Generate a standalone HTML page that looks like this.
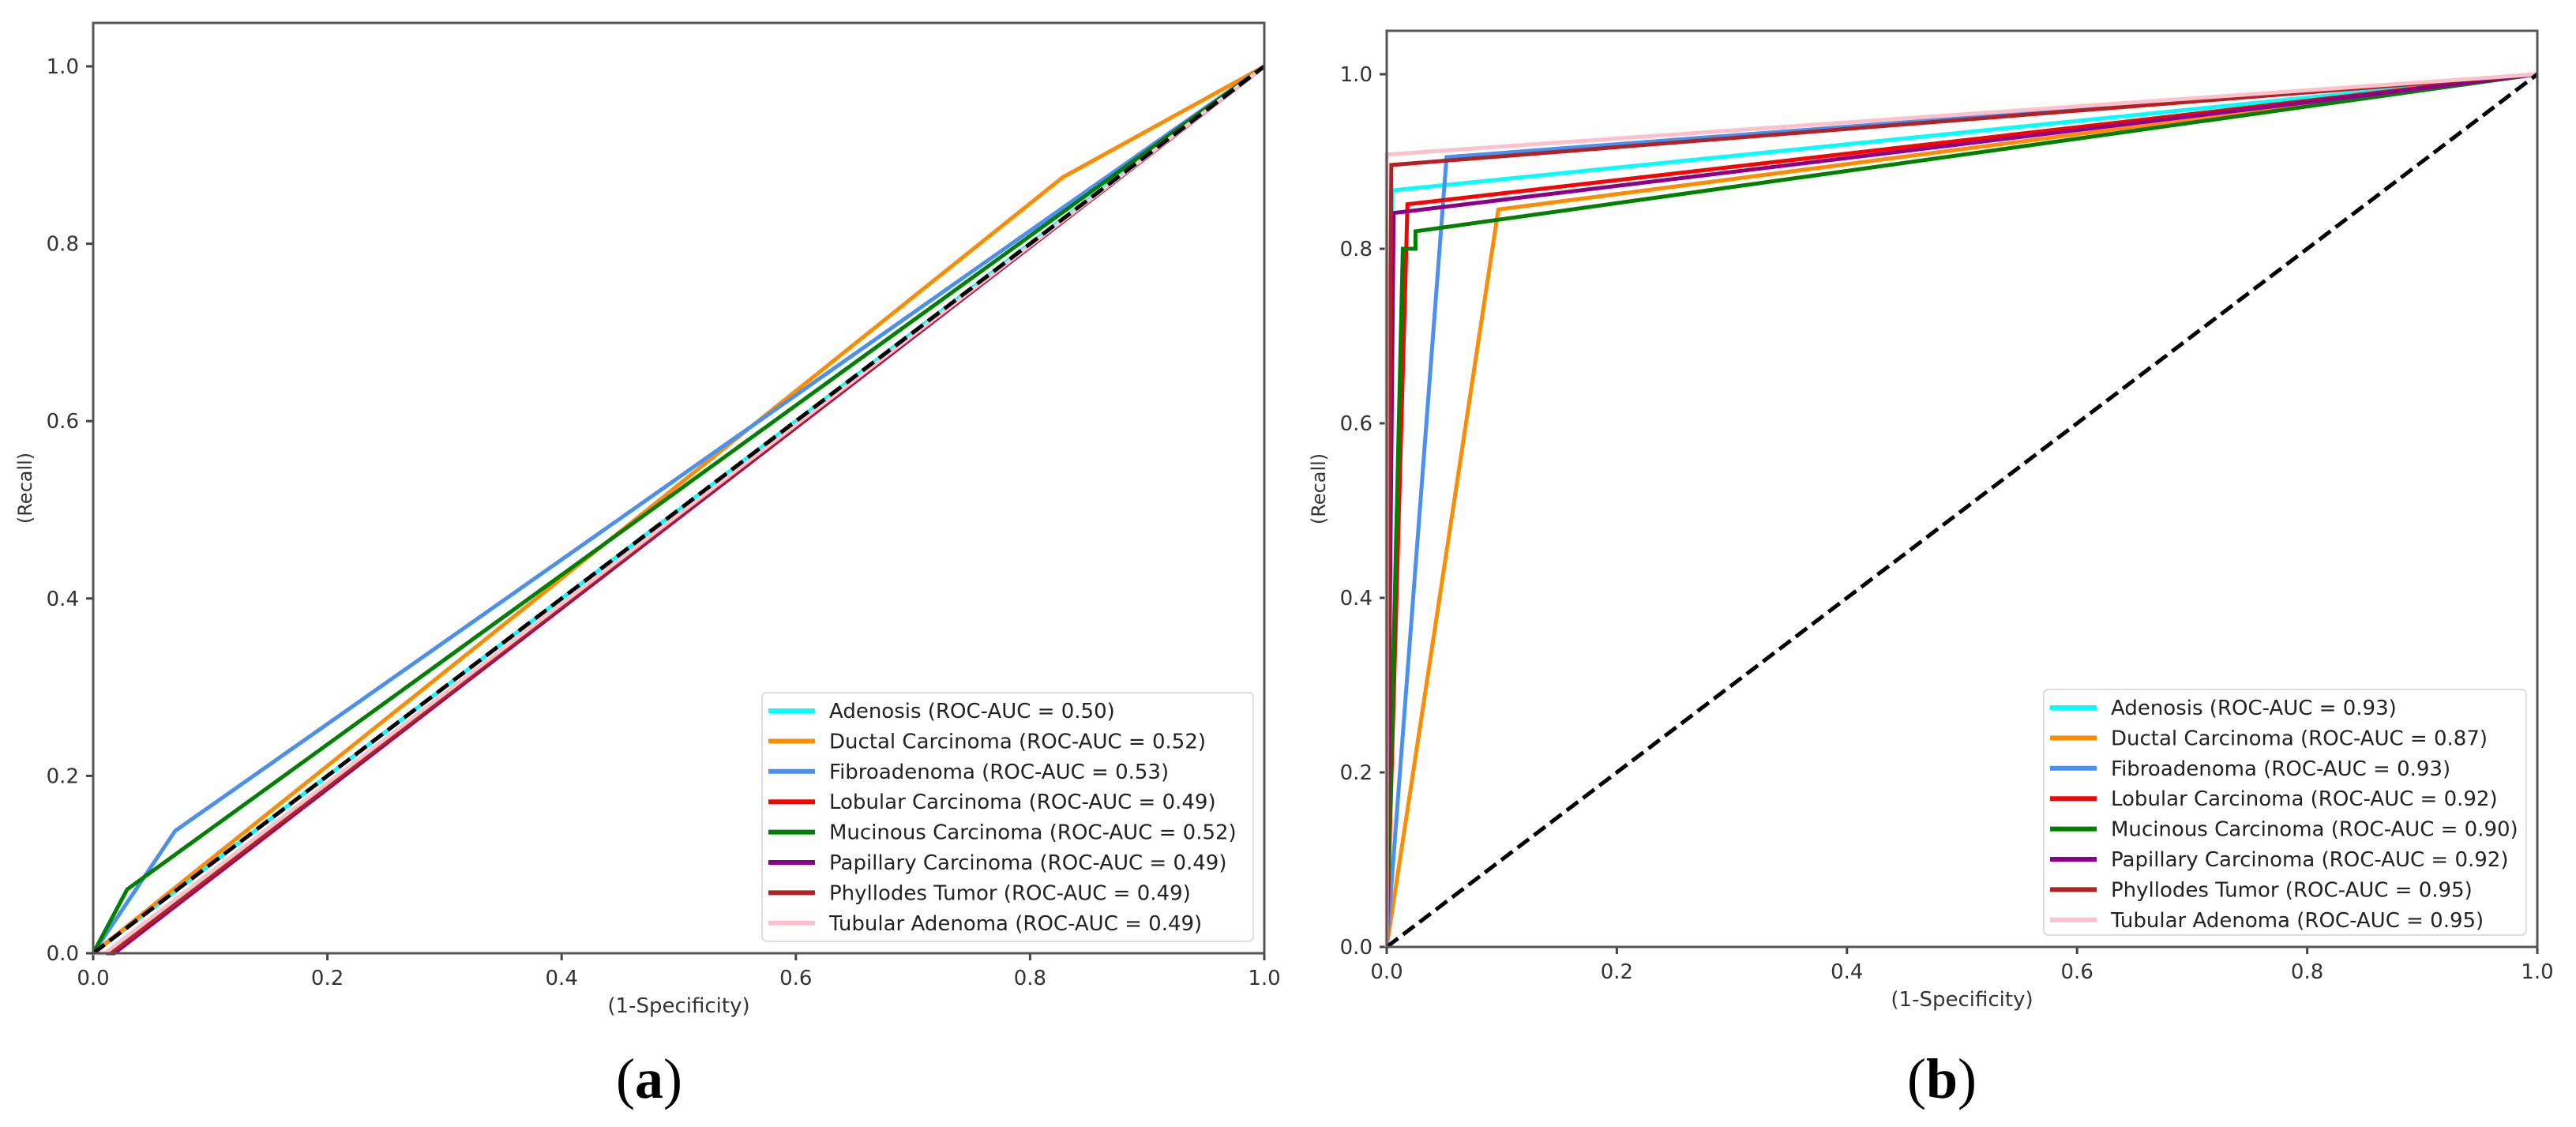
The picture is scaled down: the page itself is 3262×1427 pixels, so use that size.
<!DOCTYPE html>
<html><head><meta charset="utf-8"><style>
html,body{margin:0;padding:0;background:#fff;}
svg{display:block;font-family:"DejaVu Sans","Liberation Sans",sans-serif;}
</style></head><body>
<svg id="fig" width="3262" height="1427" viewBox="0 0 3262 1427" xmlns="http://www.w3.org/2000/svg"></svg>
<script>
const ticks = [0, 0.2, 0.4, 0.6, 0.8, 1.0];
const tickLabels = ["0.0","0.2","0.4","0.6","0.8","1.0"];
const classNames = ["Adenosis","Ductal Carcinoma","Fibroadenoma","Lobular Carcinoma","Mucinous Carcinoma","Papillary Carcinoma","Phyllodes Tumor","Tubular Adenoma"];
const classColors = ["#00ffff","#ff8c00","#4a90f0","#ff0000","#008000","#8b008b","#b22222","#ffc0cb"];
const aucA = ["0.50","0.52","0.53","0.49","0.52","0.49","0.49","0.49"];
const aucB = ["0.93","0.87","0.93","0.92","0.90","0.92","0.95","0.95"];
// panel (a) curves: fpr / tpr
const fprA = [[0,1],[0,0.828,1],[0,0.070,1],[0,0.015,1],[0,0.029,1],[0,0.018,1],[0,0.015,1],[0,0.010,1]];
const tprA = [[0,1],[0,0.875,1],[0,0.138,1],[0,0,1],[0,0.072,1],[0,0,1],[0,0,1],[0,0,1]];
// panel (b) curves
const fprB = [[0,0.005,1],[0,0.097,1],[0,0.052,1],[0,0.017,0.018,1],[0,0.014,0.025,0.025,1],[0,0.006,1],[0,0.004,1],[0,0.0,1]];
const tprB = [[0,0.867,1],[0,0.845,1],[0,0.905,1],[0,0.80,0.851,1],[0,0.80,0.80,0.82,1],[0,0.841,1],[0,0.896,1],[0,0.908,1]];

const NS="http://www.w3.org/2000/svg";
const svg=document.getElementById('fig');
function mk(tag,attrs,parent){const e=document.createElementNS(NS,tag);for(const k in attrs)e.setAttribute(k,attrs[k]);(parent||svg).appendChild(e);return e;}

function panel(p){
  const g=mk('g',{});
  
  
  const sx=v=>p.x0+v*(p.x1-p.x0);
  const sy=v=>p.y0-v*(p.y0-p.y1);
  // ticks
  ticks.forEach((t,i)=>{
    const tx=mk('line',{x1:sx(t),x2:sx(t),y1:p.y0,y2:p.y0+9,stroke:'#444','stroke-width':3},g);
    
    
    const lx=mk('text',{x:sx(t),y:p.y0+40,'font-size':26,fill:'#333','text-anchor':'middle'},g);
    lx.textContent=tickLabels[i];
    
    
    const ty=mk('line',{x1:p.x0-9,x2:p.x0,y1:sy(t),y2:sy(t),stroke:'#444','stroke-width':3},g);
    
    
    const ly=mk('text',{x:p.x0-18,y:sy(t)+9,'font-size':26,fill:'#333','text-anchor':'end'},g);
    ly.textContent=tickLabels[i];
    
    
  });
  // curves
  p.fpr.forEach((fx,i)=>{
    const pts=fx.map((v,j)=>sx(v)+','+sy(p.tpr[i][j])).join(' ');
    const pl=mk('polyline',{points:pts,fill:'none',stroke:classColors[i],'stroke-width':5,'stroke-linejoin':'miter'},g);
    
    
  });
  const dg=mk('line',{x1:sx(0),y1:sy(0),x2:sx(1),y2:sy(1),stroke:'#000','stroke-width':5,'stroke-dasharray':'18 8'},g);
  
  
  // frame
  const fr=mk('rect',{x:p.x0,y:p.top,width:p.x1-p.x0,height:p.y0-p.top,fill:'none',stroke:'#555','stroke-width':3},g);
  
  
  // legend
  const lg=mk('g',{},g);
  
  
  mk('rect',{x:p.lx,y:p.ly,width:p.lw,height:p.lh,rx:6,fill:'#fff','fill-opacity':0.85,stroke:'#ddd','stroke-width':2},lg);
  classNames.forEach((n,i)=>{
    const yy=p.ly+23+i*38.4;
    const e=mk('g',{},lg);
    
    
    mk('line',{x1:p.lx+8,x2:p.lx+67,y1:yy,y2:yy,stroke:classColors[i],'stroke-width':6},e);
    const t=mk('text',{x:p.lx+85,y:yy+9,'font-size':26,fill:'#222'},e);
    t.textContent=n+' (ROC-AUC = '+p.auc[i]+')';
  });
  const xl=mk('text',{x:(p.x0+p.x1)/2,y:p.y0+75,'font-size':26,fill:'#333','text-anchor':'middle'},g);
  xl.textContent='(1-Specificity)';
  
  
  const yl=mk('text',{x:p.ylx,y:(p.y0+p.top)/2,'font-size':24,fill:'#333','text-anchor':'middle',transform:'rotate(-90 '+p.ylx+' '+((p.y0+p.top)/2)+')'},g);
  yl.textContent='(Recall)';
  
  
  const cap=mk('text',{x:p.capx,y:1390,'font-size':72,fill:'#000','text-anchor':'middle','font-family':'"Liberation Serif",serif'},g);
  cap.innerHTML='(<tspan font-weight="bold">'+p.id+'</tspan>)';
  
  
}
panel({id:'a',x0:118,x1:1601,y0:1207,y1:84,top:29,fpr:fprA,tpr:tprA,auc:aucA,lx:965,ly:877,lw:622,lh:315,ylx:40,capx:822});
panel({id:'b',x0:1756,x1:3213,y0:1199,y1:94,top:39,fpr:fprB,tpr:tprB,auc:aucB,lx:2588,ly:873,lw:611,lh:311,ylx:1678,capx:2459});
</script>
</body></html>
